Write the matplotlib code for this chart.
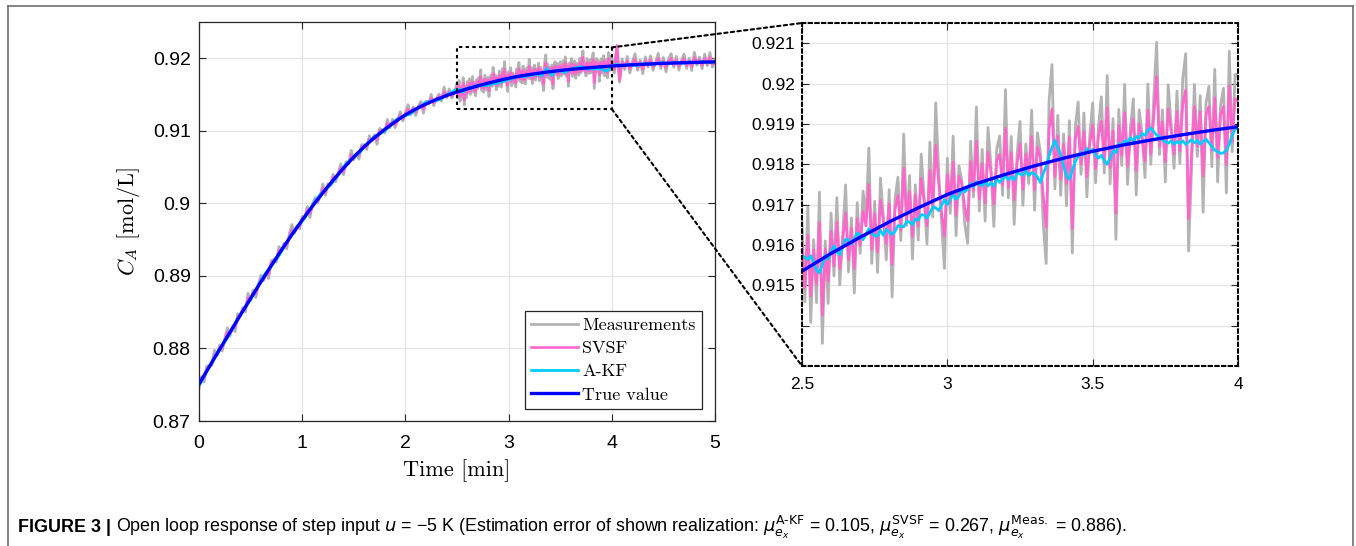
"""Open loop response of a step input: measurements, SVSF, A-KF and true C_A, with zoom inset."""

import matplotlib

matplotlib.use("Agg")
import matplotlib.pyplot as plt
import numpy as np
from matplotlib.lines import Line2D
from matplotlib.patches import ConnectionPatch, Rectangle

# C_A values in units of 1e-5 mol/L.
# noisy series are sampled on three segments: 0-2.5 min (dt 0.025), 2.5-4 min (dt 0.01), 4-5 min (dt 0.025)
T_SEG_A = np.arange(100) * 0.025
T_SEG_B = 2.5 + np.arange(150) * 0.01
T_SEG_C = 4.0 + np.arange(41) * 0.025

MEAS = [
    87450, 87610, 87539, 87759, 87758, 87768, 87977, 87907, 88046, 87965,
    88135, 88284, 88173, 88302, 88231, 88479, 88458, 88566, 88504, 88762,
    88660, 88807, 88704, 88881, 89008, 88934, 89040, 88965, 89211, 89225,
    89190, 89404, 89348, 89450, 89373, 89575, 89708, 89588, 89689, 89649,
    89820, 89798, 89957, 89805, 89993, 90079, 90005, 90110, 90266, 90110,
    90273, 90247, 90400, 90301, 90423, 90544, 90395, 90574, 90543, 90731,
    90600, 90685, 90610, 90805, 90810, 90742, 90933, 90865, 90946, 90815,
    91033, 91012, 90970, 91156, 91042, 91158, 91044, 91148, 91262, 91136,
    91250, 91360, 91220, 91330, 91210, 91338, 91405, 91243, 91410, 91366,
    91501, 91347, 91442, 91506, 91410, 91603, 91457, 91579, 91451, 91543,
    # 2.5 - 4 min
    91655, 91459, 91694, 91408, 91613, 91457, 91731, 91356, 91610, 91455,
    91679, 91523, 91717, 91501, 91625, 91749, 91533, 91667, 91481, 91705,
    91579, 91733, 91667, 91840, 91554, 91708, 91532, 91766, 91669, 91563,
    91737, 91471, 91714, 91768, 91611, 91875, 91648, 91772, 91565, 91749,
    91612, 91825, 91719, 91602, 91855, 91669, 91952, 91785, 91658, 91542,
    91815, 91678, 91870, 91623, 91796, 91759, 91651, 91604, 91857, 91719,
    91942, 91684, 91837, 91659, 91891, 91794, 91646, 91838, 91870, 91723,
    91985, 91717, 91869, 91651, 91823, 91906, 91698, 91850, 91752, 91934,
    91686, 91878, 91830, 91652, 91554, 91956, 92047, 91739, 91921, 91723,
    91875, 91697, 91908, 91580, 91892, 91954, 91775, 91927, 91719, 91870,
    91952, 91754, 91895, 91967, 91778, 92020, 91751, 91913, 91614, 91936,
    91797, 91998, 91750, 91891, 91962, 91724, 91935, 91876, 91767, 91999,
    91800, 91961, 92102, 91824, 91935, 91756, 91997, 91898, 91790, 91981,
    91802, 92013, 92074, 91585, 91786, 91998, 91819, 91970, 91681, 91952,
    91993, 91794, 92035, 91756, 91947, 91988, 91729, 92080, 91831, 92022,
    # 4 - 5 min
    92023, 91795, 92158, 91670, 91992, 91844, 92026, 91798, 91950, 92062,
    91834, 91975, 91787, 92019, 91881, 92032, 91834, 91946, 92067, 91859,
    92010, 91811, 91983, 92064, 91875, 92026, 91837, 91968, 92059, 91860,
    92001, 91832, 92083, 91904, 92015, 91856, 92057, 91898, 92078, 91879,
    91990,
]

SVSF = [
    87480, 87590, 87584, 87724, 87753, 87788, 87922, 87917, 88016, 88005,
    88120, 88224, 88198, 88292, 88286, 88439, 88458, 88541, 88539, 88697,
    88675, 88777, 88754, 88871, 88963, 88954, 89035, 89025, 89176, 89210,
    89220, 89354, 89353, 89430, 89418, 89545, 89638, 89603, 89679, 89684,
    89795, 89808, 89912, 89860, 89978, 90044, 90030, 90105, 90206, 90150,
    90253, 90262, 90360, 90331, 90413, 90494, 90440, 90549, 90553, 90666,
    90620, 90680, 90660, 90775, 90795, 90777, 90888, 90870, 90926, 90875,
    90998, 91002, 90995, 91101, 91057, 91128, 91084, 91148, 91217, 91166,
    91235, 91300, 91240, 91305, 91255, 91328, 91370, 91298, 91390, 91376,
    91451, 91382, 91437, 91476, 91435, 91538, 91472, 91539, 91481, 91533,
    # 2.5 - 4 min
    91600, 91494, 91624, 91473, 91588, 91502, 91656, 91426, 91590, 91510,
    91634, 91548, 91657, 91541, 91610, 91679, 91563, 91642, 91541, 91665,
    91599, 91683, 91647, 91750, 91589, 91678, 91582, 91711, 91659, 91603,
    91702, 91551, 91689, 91723, 91636, 91790, 91663, 91732, 91620, 91724,
    91647, 91765, 91709, 91647, 91785, 91689, 91847, 91755, 91683, 91622,
    91775, 91703, 91805, 91673, 91771, 91749, 91691, 91659, 91807, 91734,
    91857, 91714, 91802, 91704, 91831, 91779, 91701, 91808, 91825, 91748,
    91890, 91742, 91829, 91711, 91803, 91851, 91738, 91825, 91772, 91869,
    91736, 91843, 91815, 91722, 91644, 91886, 91937, 91769, 91871, 91763,
    91850, 91752, 91868, 91640, 91862, 91894, 91800, 91882, 91769, 91850,
    91897, 91789, 91870, 91907, 91803, 91940, 91791, 91883, 91679, 91896,
    91822, 91928, 91795, 91871, 91912, 91784, 91900, 91866, 91807, 91934,
    91825, 91916, 92017, 91844, 91905, 91806, 91937, 91883, 91825, 91931,
    91832, 91948, 91984, 91665, 91826, 91943, 91844, 91930, 91771, 91922,
    91943, 91834, 91965, 91816, 91922, 91943, 91799, 91995, 91856, 91962,
    # 4 - 5 min
    91958, 91845, 92178, 91700, 91947, 91874, 91966, 91853, 91930, 91987,
    91874, 91945, 91852, 91969, 91901, 91977, 91879, 91936, 91997, 91894,
    91970, 91871, 91958, 91999, 91905, 91981, 91887, 91953, 91999, 91900,
    91971, 91887, 92013, 91924, 91980, 91901, 92002, 91923, 92013, 91914,
    91970,
]

AKF = [
    87490, 87545, 87614, 87684, 87753, 87818, 87882, 87947, 87996, 88045,
    88095, 88144, 88208, 88277, 88346, 88409, 88463, 88516, 88569, 88622,
    88675, 88737, 88804, 88871, 88938, 88999, 89045, 89090, 89136, 89180,
    89230, 89279, 89338, 89400, 89463, 89525, 89583, 89628, 89669, 89709,
    89755, 89798, 89857, 89915, 89973, 90029, 90080, 90120, 90156, 90190,
    90223, 90257, 90295, 90346, 90398, 90449, 90500, 90544, 90578, 90606,
    90635, 90660, 90690, 90730, 90775, 90817, 90853, 90890, 90916, 90935,
    90953, 90977, 91000, 91031, 91067, 91103, 91139, 91168, 91182, 91196,
    91210, 91220, 91235, 91260, 91290, 91318, 91345, 91373, 91395, 91401,
    91406, 91412, 91417, 91426, 91445, 91468, 91495, 91515, 91535, 91555,
    # 2.5 - 4 min
    91573, 91569, 91564, 91573, 91558, 91537, 91531, 91551, 91575, 91565,
    91584, 91598, 91582, 91576, 91595, 91614, 91613, 91602, 91616, 91630,
    91624, 91613, 91627, 91640, 91629, 91623, 91622, 91636, 91624, 91638,
    91632, 91626, 91634, 91648, 91646, 91645, 91658, 91657, 91650, 91664,
    91662, 91675, 91674, 91667, 91680, 91694, 91692, 91685, 91698, 91712,
    91700, 91713, 91725, 91713, 91721, 91739, 91731, 91739, 91752, 91744,
    91757, 91749, 91747, 91759, 91746, 91754, 91746, 91763, 91755, 91763,
    91770, 91762, 91769, 91761, 91778, 91776, 91773, 91785, 91772, 91779,
    91776, 91768, 91755, 91777, 91794, 91821, 91842, 91859, 91841, 91823,
    91795, 91772, 91763, 91785, 91807, 91819, 91830, 91822, 91839, 91830,
    91837, 91824, 91815, 91822, 91808, 91800, 91816, 91833, 91829, 91851,
    91847, 91858, 91855, 91866, 91857, 91869, 91865, 91876, 91872, 91884,
    91890, 91881, 91872, 91869, 91860, 91856, 91852, 91858, 91850, 91856,
    91852, 91858, 91849, 91855, 91861, 91853, 91859, 91850, 91856, 91862,
    91853, 91844, 91835, 91831, 91827, 91828, 91834, 91850, 91871, 91887,
    # 4 - 5 min
    91888, 91905, 91918, 91900, 91892, 91899, 91911, 91918, 91910, 91902,
    91899, 91910, 91922, 91929, 91926, 91917, 91914, 91926, 91937, 91944,
    91935, 91926, 91923, 91929, 91940, 91946, 91937, 91928, 91934, 91945,
    91951, 91947, 91938, 91934, 91945, 91956, 91952, 91943, 91938, 91949,
    91955,
]

# true value every 0.1 min
T_TRUE = np.arange(51) * 0.1
TRUE = [
    87510, 87748, 87986, 88223, 88458, 88690, 88918, 89141, 89358, 89568,
    89770, 89963, 90146, 90320, 90485, 90640, 90780, 90906, 91020, 91124,
    91220, 91300, 91370, 91432, 91487, 91535, 91579, 91619, 91657, 91692,
    91725, 91752, 91775, 91796, 91815, 91832, 91847, 91860, 91872, 91883,
    91893, 91902, 91910, 91917, 91924, 91930, 91935, 91939, 91943, 91947,
    91950,
]

MAIN_YTICKS = [0.87, 0.88, 0.89, 0.90, 0.91, 0.92]
MAIN_YLABELS = ["0.87", "0.88", "0.89", "0.9", "0.91", "0.92"]
ZOOM_YTICKS = [0.914, 0.915, 0.916, 0.917, 0.918, 0.919, 0.920, 0.921]
ZOOM_YLABELS = ["", "0.915", "0.916", "0.917", "0.918", "0.919", "0.92", "0.921"]
ZOOM_XTICKS = [2.5, 3.0, 3.5, 4.0]
ZOOM_XLABELS = ["2.5", "3", "3.5", "4"]
ZOOM_X = (2.5, 4.0)
ZOOM_Y = (0.913, 0.9215)

GRAY, PINK, CYAN, BLUE = "#b3b3b3", "#ff66cc", "#00ccff", "#0000ff"

plt.rcParams["font.family"] = ["Liberation Sans", "DejaVu Sans"]

W, H = 1356, 546
fig = plt.figure(figsize=(W / 100, H / 100), dpi=100)


def box(left, top, right, bottom):
    return [left / W, 1 - bottom / H, (right - left) / W, (bottom - top) / H]


t_noisy = np.concatenate([T_SEG_A, T_SEG_B, T_SEG_C])
series = [
    (t_noisy, np.array(MEAS) * 1e-5, GRAY, 2.0, "Measurements"),
    (t_noisy, np.array(SVSF) * 1e-5, PINK, 1.9, "SVSF"),
    (t_noisy, np.array(AKF) * 1e-5, CYAN, 2.0, "A-KF"),
    (T_TRUE, np.array(TRUE) * 1e-5, BLUE, 2.4, "True value"),
]

ax = fig.add_axes(box(199, 22, 715, 421))
axz = fig.add_axes(box(802, 23, 1238, 366))

for a in (ax, axz):
    for t, y, c, lw, name in series:
        a.plot(t, y, color=c, lw=lw, label=name)
    a.grid(True, color="#e4e4e4", lw=0.9)
    a.set_axisbelow(True)
    a.tick_params(direction="in", top=True, right=True, length=5, width=0.8,
                  color="#262626")

# main axes
ax.set_xlim(0, 5)
ax.set_ylim(0.87, 0.925)
ax.set_xticks(range(6))
ax.set_yticks(MAIN_YTICKS)
ax.set_yticklabels(MAIN_YLABELS)
ax.tick_params(labelsize=14)
ax.tick_params(axis="x", pad=10)
ax.tick_params(axis="y", pad=6)
for s in ax.spines.values():
    s.set_color("#262626")
    s.set_linewidth(0.9)
ax.set_xlabel(r"Time [min]", family="cmr10", fontsize=16, labelpad=5)
ax.set_ylabel(r"$C_A$ [mol/L]", family="cmr10", math_fontfamily="cm", fontsize=16,
              labelpad=8)

leg = ax.legend(loc="lower right", bbox_to_anchor=(0.975, 0.03), borderaxespad=0,
                prop={"family": "cmr10", "size": 13}, handlelength=2.6,
                handletextpad=0.25, labelspacing=0.42, borderpad=0.35,
                fancybox=False, framealpha=1, edgecolor="#262626")
leg.get_frame().set_linewidth(0.9)

# zoom rectangle and its connectors
dash = (0, (1.6, 1.6))
ax.add_patch(Rectangle((ZOOM_X[0], ZOOM_Y[0]), ZOOM_X[1] - ZOOM_X[0], ZOOM_Y[1] - ZOOM_Y[0],
                       fill=False, ec="k", lw=1.5, ls=dash, zorder=5))
for ya, yb in ((ZOOM_Y[1], 1), (ZOOM_Y[0], 0)):
    fig.add_artist(ConnectionPatch((ZOOM_X[1], ya), (0, yb), coordsA=ax.transData,
                                   coordsB=axz.transAxes, color="k", lw=1.5, ls=dash))

# inset
axz.set_xlim(*ZOOM_X)
axz.set_ylim(*ZOOM_Y)
axz.set_xticks(ZOOM_XTICKS)
axz.set_xticklabels(ZOOM_XLABELS)
axz.set_yticks(ZOOM_YTICKS)
axz.set_yticklabels(ZOOM_YLABELS)
axz.tick_params(labelsize=12.5)
axz.tick_params(axis="x", pad=8)
axz.tick_params(axis="y", pad=5)
for s in axz.spines.values():
    s.set_color("k")
    s.set_linewidth(1.5)
    s.set_linestyle(dash)

# outer frame (open at the bottom)
fc = "#707070"
for xs, ys in (([8, 8], [546, 6]), ([8, 1353], [6, 6]), ([1353, 1353], [6, 546])):
    fig.add_artist(Line2D([x / W for x in xs], [1 - y / H for y in ys],
                          transform=fig.transFigure, color=fc, lw=1.2))

# caption
cap_y = 1 - 527 / H
t1 = fig.text(18 / W, cap_y, "FIGURE 3 |", fontsize=12.9, fontweight="bold", va="center")
r = fig.canvas.get_renderer()
x1 = t1.get_window_extent(r).x1
fig.text((x1 + 5) / W, cap_y,
         r"Open loop response of step input $u$ = −5 K (Estimation error of shown "
         r"realization: $\mu_{e_x}^{\mathrm{A‐KF}}$ = 0.105, "
         r"$\mu_{e_x}^{\mathrm{SVSF}}$ = 0.267, $\mu_{e_x}^{\mathrm{Meas.}}$ = 0.886).",
         fontsize=12.9, va="center", math_fontfamily="dejavusans")

fig.savefig("out.png", dpi=100)
